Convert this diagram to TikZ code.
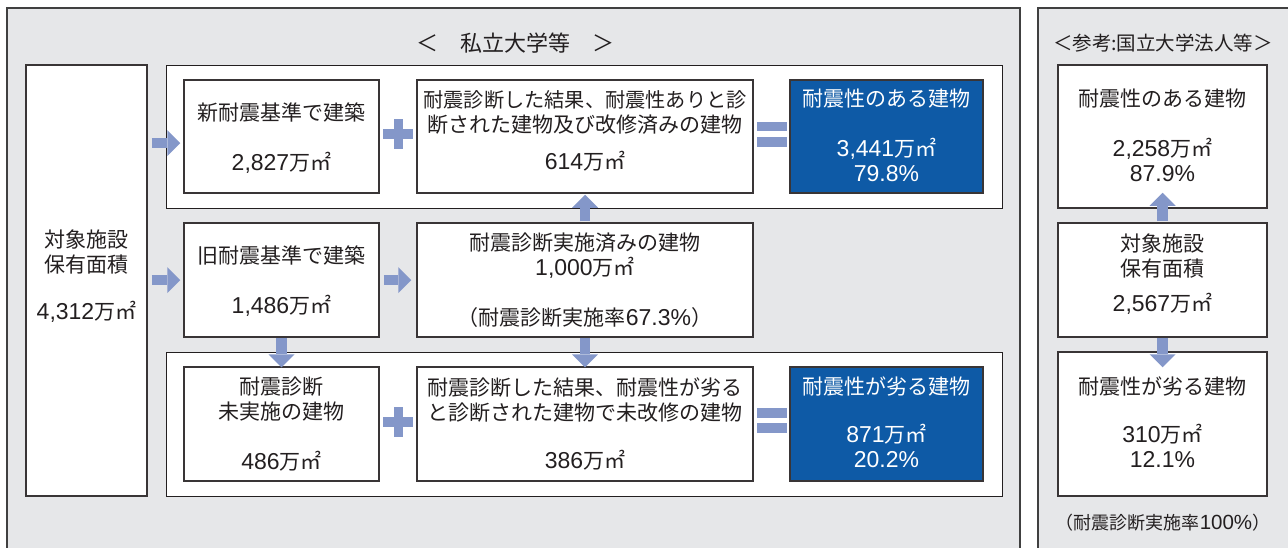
\documentclass[tikz,border=0pt]{standalone}
\usepackage{fontspec}
\setmainfont{Noto Sans CJK JP}
\newfontfamily\numf{Liberation Sans}
\newcommand\dg[1]{{\numf\fontsize{23}{25}\selectfont #1}}
\newcommand\dgs[1]{{\numf\fontsize{20.5}{22}\selectfont #1}}
\usetikzlibrary{arrows.meta}
\definecolor{bgc}{HTML}{E6E7E9}
\definecolor{arrc}{HTML}{8497C9}
\definecolor{bluc}{HTML}{0E5AA6}
\definecolor{inkc}{HTML}{231F20}
\begin{document}
\begin{tikzpicture}[x=1pt,y=-1pt,
  panel/.style={draw=black!75, line width=1.1pt, fill=bgc},
  group/.style={draw=inkc, line width=1pt, fill=white, inner sep=0pt},
  box/.style={draw=inkc!90, line width=1.5pt, fill=white, inner sep=0pt},
  bluebox/.style={draw=inkc!90, line width=1.5pt, fill=bluc, inner sep=0pt},
  txt/.style={font=\fontsize{21}{25}\selectfont, text=inkc, align=center, inner sep=0pt},
  wtxt/.style={txt, text=white},
  flow/.style={draw=arrc, line width=10.5pt, -{Triangle[length=13pt,width=26pt,line width=0pt]}},
  sign/.style={fill=arrc, draw=none}
]
\useasboundingbox (0,0) rectangle (1288,547);
\fill[white] (0,0) rectangle (1288,547);
\begin{scope}
\clip (0,0) rectangle (1288,547);
\draw[panel] (7,8) rectangle (1020,560);
\draw[panel] (1038,8) rectangle (1300,560);
\end{scope}

% titles
\node[txt, font=\fontsize{22}{25}\selectfont] (t1) at (515,43) {＜　私立大学等　＞};
\node[txt, font=\fontsize{19.5}{25}\selectfont] (t2) at (1163,43) {＜参考:国立大学法人等＞};

% group panels
\node[group, minimum width=836pt, minimum height=143pt] (g1) at (584,136.5) {};
\node[group, minimum width=836pt, minimum height=144pt] (g2) at (584,424) {};

% left total box
\node[box, minimum width=121pt, minimum height=431pt] (lbox) at (86.5,280.5) {};
\node[txt] (lt) at (86.5,276) {対象施設\\保有面積\\[22pt]\dg{4,312}万㎡};

% top row
\node[box, minimum width=195pt, minimum height=113pt] (b1) at (281.5,136.5) {};
\node[txt] (b1t) at (281.5,138) {新耐震基準で建築\\[25pt]\dg{2,827}万㎡};
\node[box, minimum width=336pt, minimum height=113pt] (b2) at (585,136.5) {};
\node[txt] (b2t) at (585,131) {{\fontsize{20.2}{25}\selectfont 耐震診断した結果、耐震性ありと診}\\断された建物及び改修済みの建物\\[12pt]\dg{614}万㎡};
\node[bluebox, minimum width=193pt, minimum height=113pt] (b3) at (886.5,136.5) {};
\node[wtxt] (b3t) at (886.5,135.5) {耐震性のある建物\\[25pt]\dg{3,441}万㎡\\\dg{79.8\%}};

% middle row
\node[box, minimum width=195pt, minimum height=114pt] (b4) at (281.5,280) {};
\node[txt] (b4t) at (281.5,281) {旧耐震基準で建築\\[25pt]\dg{1,486}万㎡};
\node[box, minimum width=336pt, minimum height=114pt] (b5) at (585,280) {};
\node[txt] (b5t) at (585,280) {耐震診断実施済みの建物\\\dg{1,000}万㎡\\[25pt]（耐震診断実施率\dg{67.3\%}）};

% bottom row
\node[box, minimum width=195pt, minimum height=114pt] (b6) at (281.5,424) {};
\node[txt] (b6t) at (281.5,424.5) {耐震診断\\未実施の建物\\[25pt]\dg{486}万㎡};
\node[box, minimum width=336pt, minimum height=114pt] (b7) at (585,424) {};
\node[txt] (b7t) at (585,423.5) {耐震診断した結果、耐震性が劣る\\と診断された建物で未改修の建物\\[23pt]\dg{386}万㎡};
\node[bluebox, minimum width=193pt, minimum height=114pt] (b8) at (886.5,424) {};
\node[wtxt] (b8t) at (886.5,422.5) {耐震性が劣る建物\\[23pt]\dg{871}万㎡\\\dg{20.2\%}};

% right panel boxes
\node[box, minimum width=209pt, minimum height=143pt] (r1) at (1162.5,136.5) {};
\node[txt] (r1t) at (1162.5,135.5) {耐震性のある建物\\[25pt]\dg{2,258}万㎡\\\dg{87.9\%}};
\node[box, minimum width=209pt, minimum height=114pt] (r2) at (1162.5,280) {};
\node[txt] (r2t) at (1162.5,274) {対象施設\\保有面積\\[10pt]\dg{2,567}万㎡};
\node[box, minimum width=209pt, minimum height=144pt] (r3) at (1162.5,424) {};
\node[txt] (r3t) at (1162.5,422.5) {耐震性が劣る建物\\[23pt]\dg{310}万㎡\\\dg{12.1\%}};
\node[txt, font=\fontsize{18}{22}\selectfont] (note) at (1163,523) {（耐震診断実施率\dgs{100\%}）};

% arrows
\draw[flow] ([xshift=4pt,yshift=-6.5pt]lbox.east |- b1.center) -- ([xshift=-3pt,yshift=-6.5pt]b1.west);
\draw[flow] ([xshift=4pt]lbox.east |- b4.center) -- ([xshift=-3pt]b4.west);
\draw[flow] ([xshift=4pt]b4.east) -- ([xshift=-5pt]b5.west);
\draw[flow] ([yshift=1pt]b5.north) -- ([yshift=-1pt]b2.south);
\draw[flow] ([yshift=-0.5pt]b4.south) -- ([yshift=-1pt]b6.north);
\draw[flow] ([yshift=-0.5pt]b5.south) -- ([yshift=-1pt]b7.north);
\draw[flow] ([yshift=1pt]r2.north) -- ([yshift=16pt]r1.south);
\draw[flow] ([yshift=-0.5pt]r2.south) -- ([yshift=-16pt]r3.north);

% plus signs
\fill[sign] (383,129) rectangle (413,139);
\fill[sign] (393.5,119) rectangle (402.5,149);
\fill[sign] (383,417) rectangle (413,427);
\fill[sign] (393.5,407) rectangle (402.5,437);

% equals signs
\fill[sign] (757,122) rectangle (787,131);
\fill[sign] (757,137) rectangle (787,147);
\fill[sign] (757,408) rectangle (787,418);
\fill[sign] (757,423) rectangle (787,433);
\end{tikzpicture}
\end{document}
